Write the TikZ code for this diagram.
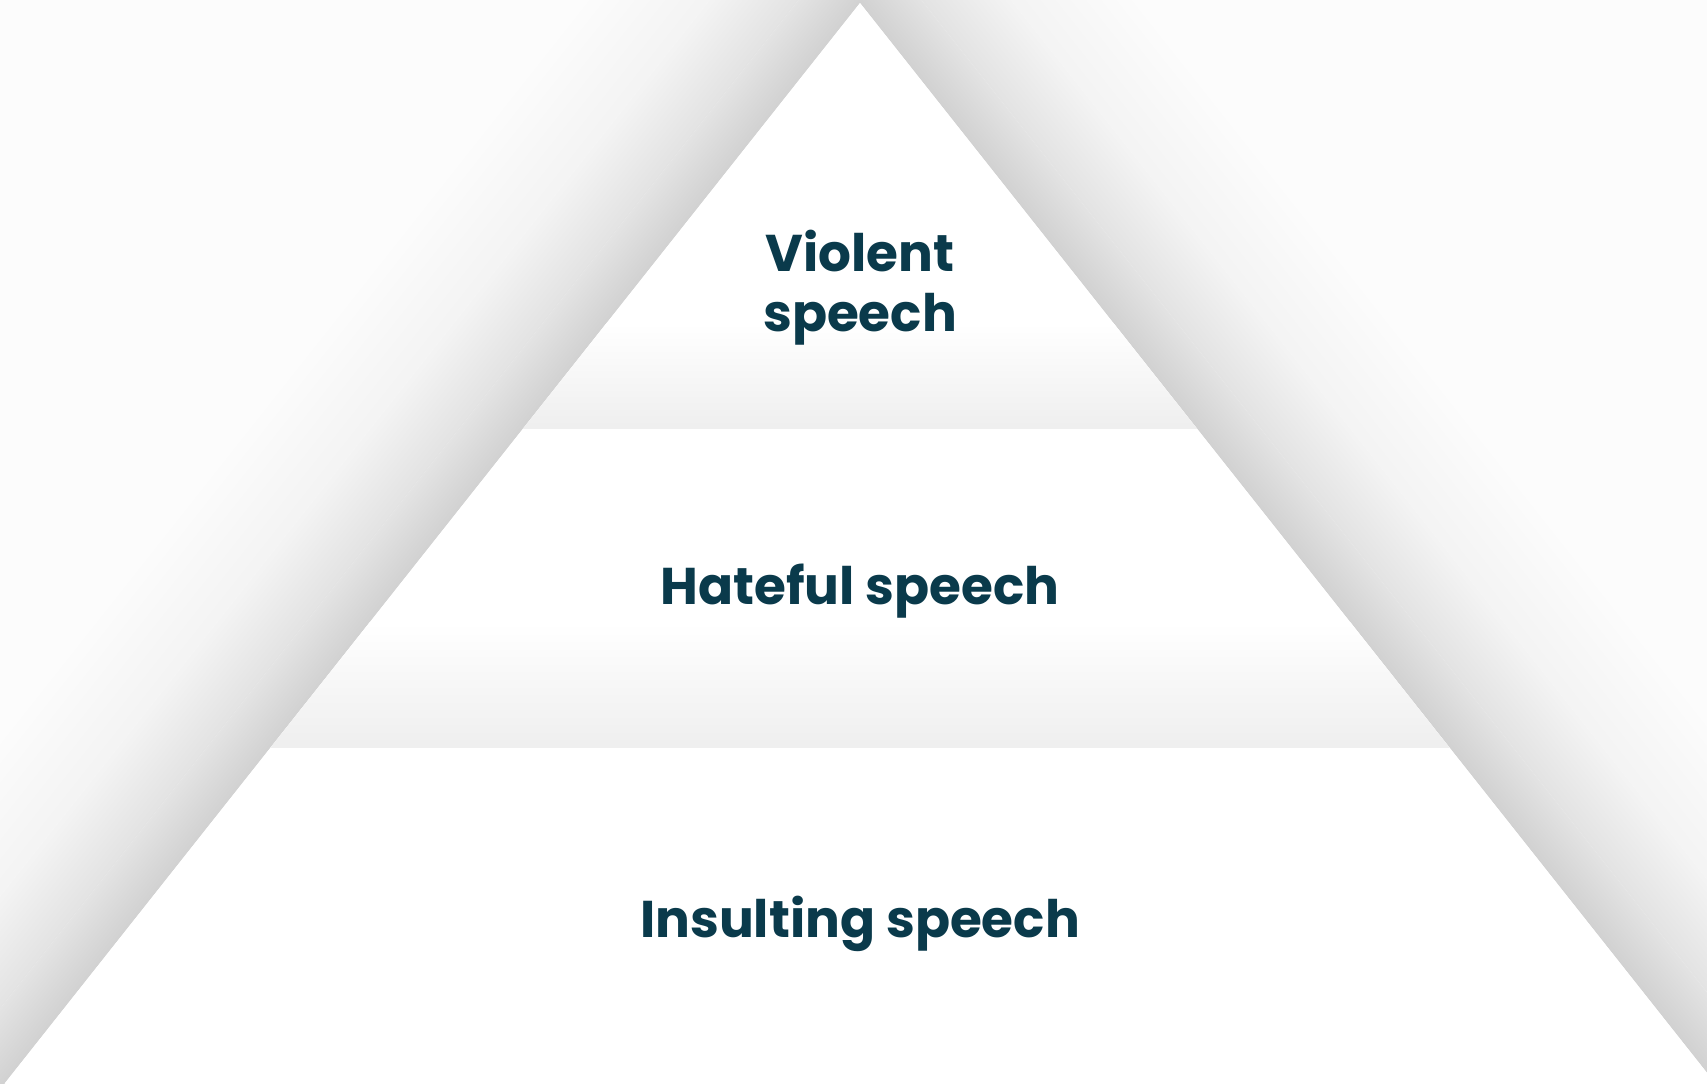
\documentclass[tikz,border=0pt]{standalone}
\usepackage{fontspec}
\newfontfamily\lblfont{Poppins}
\definecolor{txt}{HTML}{0A3A4B}
\tikzset{
  lbl/.style={font=\lblfont\bfseries\fontsize{14.7}{17}\selectfont, text=txt, inner sep=0pt, anchor=base},
  shadowbands/.style={},
}
\begin{document}
\begin{tikzpicture}[x=1cm,y=1cm]
\useasboundingbox (0,0) rectangle (17.07,10.83);
\clip (0,0) rectangle (17.07,10.83);
\fill[black!1.2] (0,0) rectangle (17.07,10.83);
\coordinate (A) at (8.60,10.80);
\coordinate (BL) at (0.05,0);
\coordinate (BR) at (17.15,0);
\coordinate (L1) at (5.227,6.54);
\coordinate (R1) at (11.973,6.54);
\coordinate (L2) at (2.702,3.35);
\coordinate (R2) at (14.498,3.35);
% left shadow
\begin{scope}
  \clip (-1,-1) rectangle (8.6,12);
  \begin{scope}[transform canvas={shift={(BL)},rotate=51.63}]
    \shade[bottom color=black!18, top color=black!11] (-3,0) rectangle (17,0.5);
    \shade[bottom color=black!11, top color=black!4.5] (-3,0.5) rectangle (17,1.2);
    \shade[bottom color=black!4.5, top color=black!1.2] (-3,1.2) rectangle (17,2.2);
  \end{scope}
\end{scope}
% right shadow
\begin{scope}
  \clip (8.6,-1) rectangle (18,12);
  \begin{scope}[transform canvas={shift={(A)},rotate=-51.63}]
    \shade[bottom color=black!18, top color=black!11] (-3,0) rectangle (17,0.5);
    \shade[bottom color=black!11, top color=black!4.5] (-3,0.5) rectangle (17,1.2);
    \shade[bottom color=black!4.5, top color=black!1.2] (-3,1.2) rectangle (17,2.2);
  \end{scope}
\end{scope}
% pyramid
\fill[white] (A) -- (BL) -- (BR) -- cycle;
\begin{scope}
  \clip (A) -- (L1) -- (R1) -- cycle;
  \shade[top color=white, bottom color=black!6.5] (4,6.54) rectangle (13,7.6);
\end{scope}
\begin{scope}
  \clip (L1) -- (L2) -- (R2) -- (R1) -- cycle;
  \shade[top color=white, bottom color=black!6.5] (2,3.35) rectangle (15,4.6);
\end{scope}
% labels
\node[lbl] (violent) at (8.60,8.11) {Violent};
\node[lbl] (violent2) at (8.60,7.51) {speech};
\node[lbl] (hateful) at (8.60,4.78) {Hateful speech};
\node[lbl] (insulting) at (8.60,1.45) {Insulting speech};
\end{tikzpicture}
\end{document}
